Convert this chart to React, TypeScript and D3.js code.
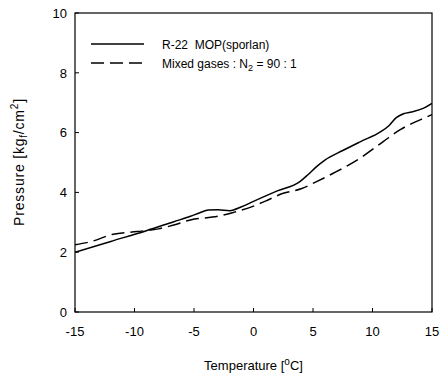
import React from "react";
import * as d3 from "d3";

const xTicks = [-15, -10, -5, 0, 5, 10, 15];
const yTicks = [0, 2, 4, 6, 8, 10];

const r22Temp = [-15, -12, -9, -6.7, -5.3, -4.5, -3.8, -3, -2, -1, 0, 2, 3.9, 4.6, 5.3, 6, 7.5, 9, 10.7, 11.4, 12, 12.6, 13.4, 14.2, 15];
const r22Pressure = [2.0, 2.36, 2.72, 3.02, 3.2, 3.32, 3.41, 3.42, 3.39, 3.52, 3.7, 4.05, 4.36, 4.6, 4.86, 5.08, 5.4, 5.7, 6.03, 6.24, 6.5, 6.63, 6.7, 6.8, 6.98];

const mixTemp = [-15, -13.7, -11.8, -9.8, -8, -6.7, -5.3, -3, -1.7, 0, 1, 2.5, 4, 5.3, 6.7, 8.7, 10.9, 12.3, 14.6, 15];
const mixPressure = [2.25, 2.35, 2.6, 2.69, 2.78, 2.91, 3.08, 3.2, 3.33, 3.54, 3.71, 3.97, 4.12, 4.36, 4.64, 5.08, 5.7, 6.09, 6.53, 6.6];

const W = 441;
const H = 378;
const left = 75, right = 432, top = 13, bottom = 312;
const FONT = "'Liberation Sans', Arial, sans-serif";

export default function App() {
  const x = d3.scaleLinear().domain([-15, 15]).range([left, right]);
  const y = d3.scaleLinear().domain([0, 10]).range([bottom, top]);
  const line = d3
    .line<[number, number]>()
    .x((d) => x(d[0]))
    .y((d) => y(d[1]))
    .curve(d3.curveMonotoneX);
  const r22 = r22Temp.map((t, i) => [t, r22Pressure[i]] as [number, number]);
  const mix = mixTemp.map((t, i) => [t, mixPressure[i]] as [number, number]);

  return (
    <svg
      width={W}
      height={H}
      style={{ position: "absolute", left: 0, top: 0, background: "#fff" }}
      fontFamily={FONT}
    >
      <rect x={0} y={0} width={W} height={H} fill="#fff" />
      <defs>
        <clipPath id="plot">
          <rect x={left} y={top} width={right - left} height={bottom - top} />
        </clipPath>
      </defs>
      <g clipPath="url(#plot)">
        <path d={line(r22) || ""} fill="none" stroke="#000" strokeWidth={1.5} />
        <path d={line(mix) || ""} fill="none" stroke="#000" strokeWidth={1.5} strokeDasharray="13,6" />
      </g>
      <rect x={left} y={top} width={right - left} height={bottom - top} fill="none" stroke="#000" strokeWidth={1.2} />
      {xTicks.map((t) => (
        <g key={"x" + t}>
          <line x1={x(t)} x2={x(t)} y1={bottom} y2={bottom - 4} stroke="#000" strokeWidth={1} />
          <text x={x(t)} y={336} textAnchor="middle" fontSize={13} fill="#000">
            {t}
          </text>
        </g>
      ))}
      {yTicks.map((t) => (
        <g key={"y" + t}>
          <line x1={left} x2={left + 4} y1={y(t)} y2={y(t)} stroke="#000" strokeWidth={1} />
          <text x={67} y={y(t) + 4.7} textAnchor="end" fontSize={13} fill="#000">
            {t}
          </text>
        </g>
      ))}
      <text x={(left + right) / 2} y={370} textAnchor="middle" fontSize={13} fill="#000">
        Temperature [<tspan fontSize={10} dy={-5}>o</tspan>
        <tspan dy={5}>C]</tspan>
      </text>
      <text
        transform={`translate(24,162) rotate(-90)`}
        textAnchor="middle"
        fontSize={14}
        letterSpacing={0.8}
        fill="#000"
      >
        Pressure [kg<tspan fontSize={10} dy={3}>f</tspan>
        <tspan dy={-3}>/cm</tspan>
        <tspan fontSize={10} dy={-6}>2</tspan>
        <tspan dy={6}>]</tspan>
      </text>
      <line x1={91} x2={144} y1={44} y2={44} stroke="#000" strokeWidth={1.5} />
      <line x1={91} x2={144} y1={63} y2={63} stroke="#000" strokeWidth={1.5} strokeDasharray="13,6" />
      <text x={162} y={48.5} fontSize={12} fill="#000" xmlSpace="preserve">
        R-22  MOP(sporlan)
      </text>
      <text x={162} y={67.5} fontSize={12} fill="#000">
        Mixed gases : N<tspan fontSize={9} dy={3}>2</tspan>
        <tspan dy={-3}> = 90 : 1</tspan>
      </text>
    </svg>
  );
}
